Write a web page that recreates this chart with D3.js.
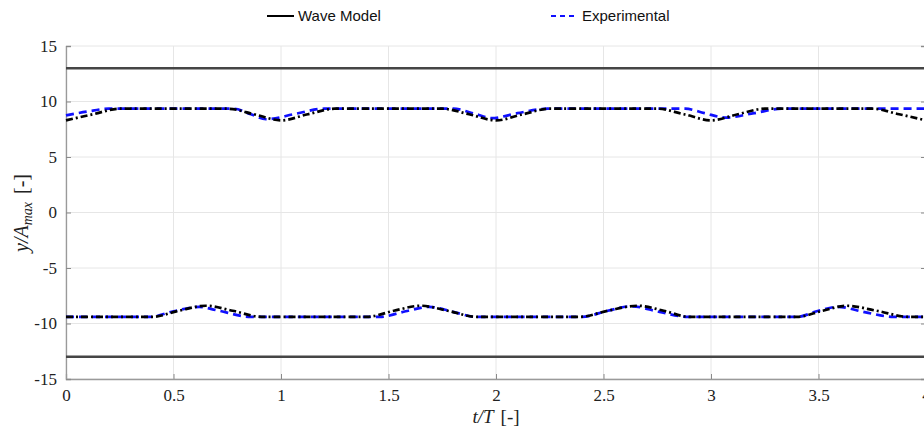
<!DOCTYPE html>
<html>
<head>
<meta charset="utf-8">
<script src="https://cdn.jsdelivr.net/npm/d3@7"></script>
<style>
	body {margin: 0; background: #fff;}
	svg {display: block;}
	.tick text {font-family: 'Liberation Serif', 'DejaVu Serif', serif; font-size: 17px; fill: #222;}
	.legend text {font-family: 'Liberation Sans', Arial, sans-serif; font-size: 15px; fill: #111;}
</style>
</head>
<body>
<div id="chart"></div>
<script>
// wave model (black dash-dot), upper and lower boundary
var modelUpperT = [0, 0.125, 0.25, 0.75, 0.875, 1, 1.125, 1.25, 1.75, 1.875, 2, 2.125, 2.25, 2.75, 2.875, 3, 3.125, 3.25, 3.75, 3.875, 4];
var modelUpperY = [8.3, 8.85, 9.35, 9.35, 8.85, 8.3, 8.85, 9.35, 9.35, 8.85, 8.3, 8.85, 9.35, 9.35, 8.85, 8.3, 8.85, 9.35, 9.35, 8.85, 8.3];
var modelLowerT = [0, 0.4, 0.525, 0.65, 0.775, 0.91, 1.4, 1.525, 1.65, 1.775, 1.91, 2.39, 2.52, 2.66, 2.78, 2.9, 3.4, 3.52, 3.63, 3.77, 3.92, 4];
var modelLowerY = [-9.4, -9.4, -8.85, -8.4, -8.85, -9.4, -9.4, -8.85, -8.4, -8.85, -9.4, -9.4, -8.85, -8.4, -8.85, -9.4, -9.4, -8.85, -8.4, -8.85, -9.4, -9.4];

// experimental (blue dashed)
var expUpperT = [0, 0.1, 0.2, 0.78, 0.86, 0.93, 1.07, 1.2, 1.8, 1.9, 1.98, 2.1, 2.24, 2.88, 2.97, 3.07, 3.2, 3.33, 4];
var expUpperY = [8.75, 9.1, 9.35, 9.35, 8.85, 8.4, 8.9, 9.35, 9.35, 8.9, 8.5, 8.95, 9.35, 9.35, 8.95, 8.55, 8.95, 9.35, 9.35];
var expLowerT = [0, 0.39, 0.5, 0.62, 0.7, 0.86, 1.46, 1.58, 1.69, 1.8, 1.91, 2.4, 2.52, 2.63, 2.76, 2.89, 3.4, 3.5, 3.59, 3.72, 3.85, 4];
var expLowerY = [-9.4, -9.4, -8.9, -8.5, -8.8, -9.4, -9.4, -8.9, -8.5, -8.95, -9.4, -9.4, -8.85, -8.45, -8.95, -9.4, -9.4, -8.85, -8.5, -9.0, -9.4, -9.4];

// channel walls
var wallY = [13, -13];

var xTicks = [0, 0.5, 1, 1.5, 2, 2.5, 3, 3.5, 4];
var yTicks = [-15, -10, -5, 0, 5, 10, 15];

var W = 924, H = 431;
var m = {left: 66, top: 46, right: -2, bottom: 52};
var pw = W - m.left - m.right, ph = H - m.top - m.bottom;

var svg = d3.select('#chart').append('svg').attr('width', W).attr('height', H);
var g = svg.append('g').attr('transform', 'translate(' + m.left + ',' + m.top + ')');

var x = d3.scaleLinear().domain([0, 4]).range([0, pw]);
var y = d3.scaleLinear().domain([-15, 15]).range([ph, 0]);

// grid
g.selectAll('line.gx').data(xTicks).enter().append('line')
	.attr('x1', d => x(d)).attr('x2', d => x(d)).attr('y1', 0).attr('y2', ph)
	.attr('stroke', '#e6e6e6').attr('stroke-width', 1);
g.selectAll('line.gy').data(yTicks).enter().append('line')
	.attr('x1', 0).attr('x2', pw).attr('y1', d => y(d)).attr('y2', d => y(d))
	.attr('stroke', '#e6e6e6').attr('stroke-width', 1);

// axes, ticks inward, plain hyphen minus like the original
var plain = function(d) { return String(d); };
var xAxis = g.append('g').attr('transform', 'translate(0,' + ph + ')')
	.call(d3.axisBottom(x).tickValues(xTicks).tickSize(-5).tickPadding(10).tickFormat(plain));
var yAxis = g.append('g')
	.call(d3.axisLeft(y).tickValues(yTicks).tickSize(-5).tickPadding(9).tickFormat(plain));
var yAxisR = g.append('g').attr('transform', 'translate(' + pw + ',0)')
	.call(d3.axisRight(y).tickValues(yTicks).tickSize(-5).tickFormat(''));
[xAxis, yAxis, yAxisR].forEach(function(a) {
	a.select('.domain').attr('stroke', '#9a9a9a').attr('stroke-width', 1.3);
	a.selectAll('.tick line').attr('stroke', '#8a8a8a');
});

// walls
g.selectAll('line.wall').data(wallY).enter().append('line')
	.attr('x1', 0).attr('x2', pw).attr('y1', d => y(d)).attr('y2', d => y(d))
	.attr('stroke', '#454545').attr('stroke-width', 2.5);

function zip(ts, ys) {
	return ts.map(function(t, i) { return [t, ys[i]]; });
}

var line = d3.line().x(d => x(d[0])).y(d => y(d[1])).curve(d3.curveMonotoneX);

var series = [
	{data: zip(expUpperT, expUpperY), color: '#1010ff', dash: '8,5'},
	{data: zip(expLowerT, expLowerY), color: '#1010ff', dash: '8,5'},
	{data: zip(modelUpperT, modelUpperY), color: '#000', dash: '7,3,2,3'},
	{data: zip(modelLowerT, modelLowerY), color: '#000', dash: '7,3,2,3'}
];
series.forEach(function(s) {
	g.append('path').attr('d', line(s.data)).attr('fill', 'none')
		.attr('stroke', s.color).attr('stroke-width', 2.7).attr('stroke-dasharray', s.dash);
});

// axis labels
var xl = svg.append('text').attr('x', 496).attr('y', 423).attr('text-anchor', 'middle')
	.attr('font-family', "'Liberation Serif', 'DejaVu Serif', serif").attr('font-size', 19).attr('fill', '#222');
xl.append('tspan').attr('font-style', 'italic').text('t/T');
xl.append('tspan').attr('dx', 7).text('[-]');

var yl = svg.append('text').attr('transform', 'translate(28,213) rotate(-90)').attr('text-anchor', 'middle')
	.attr('font-family', "'Liberation Serif', 'DejaVu Serif', serif").attr('font-size', 20).attr('fill', '#222');
yl.append('tspan').attr('font-style', 'italic').text('y/A');
yl.append('tspan').attr('font-style', 'italic').attr('font-size', 14).attr('dy', 4).text('max');
yl.append('tspan').attr('dy', -4).attr('dx', 8).text('[-]');

// legend
var legend = svg.append('g').attr('class', 'legend');
var items = [
	{label: 'Wave Model', color: '#000', dash: null, x: 267},
	{label: 'Experimental', color: '#1010ff', dash: '5,4', x: 551}
];
items.forEach(function(it) {
	legend.append('line').attr('x1', it.x).attr('x2', it.x + 27).attr('y1', 16).attr('y2', 16)
		.attr('stroke', it.color).attr('stroke-width', 2).attr('stroke-dasharray', it.dash);
	legend.append('text').attr('x', it.x + 31).attr('y', 21).text(it.label);
});
</script>
</body>
</html>
